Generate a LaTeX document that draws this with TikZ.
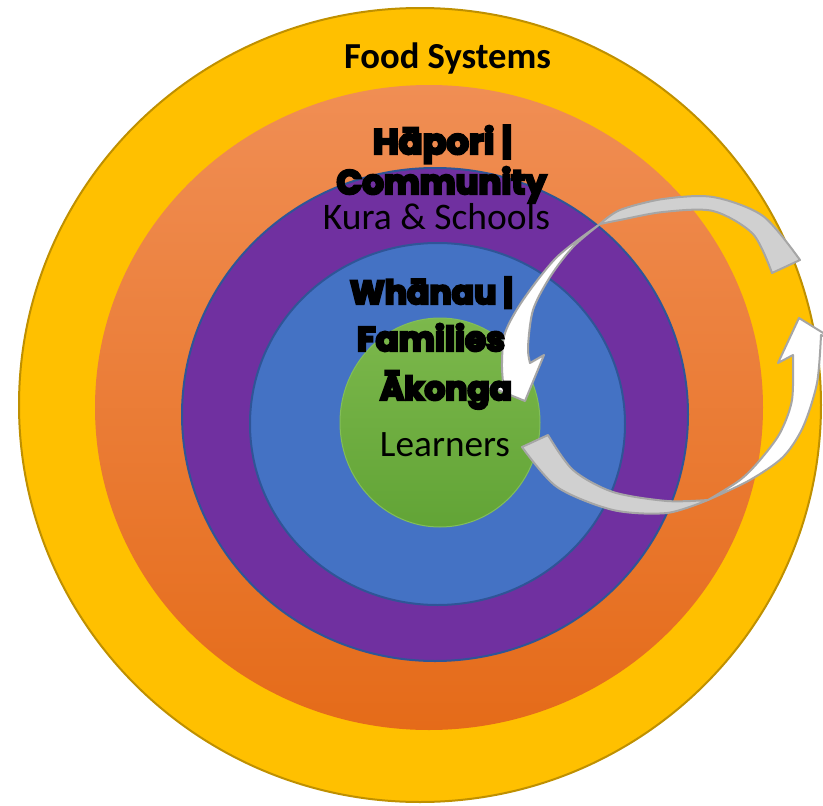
\documentclass[tikz,border=0pt]{standalone}
\usepackage{fontspec}
\usepackage{graphicx}
\setmainfont{Carlito}
\newfontfamily\chunky{Poppins}[UprightFont=* Bold, BoldFont=* Bold, UprightFeatures={FakeBold=7}]

\definecolor{ringyellow}{HTML}{FFC000}
\definecolor{ringyellowline}{HTML}{BF9000}
\definecolor{orangetop}{RGB}{240,142,84}
\definecolor{orangebot}{RGB}{229,107,25}
\definecolor{ringpurple}{HTML}{7030A0}
\definecolor{ringblue}{HTML}{4472C4}
\definecolor{ringline}{HTML}{2F5597}
\definecolor{greentop}{RGB}{124,184,76}
\definecolor{greenbot}{RGB}{98,164,54}
\definecolor{greenline}{RGB}{130,190,90}
\definecolor{bandgray}{RGB}{208,208,208}
\definecolor{bandline}{RGB}{166,166,166}

% fit a piece of text to a given width
\newcommand\fitto[2]{\resizebox{#1pt}{!}{#2}}

\begin{document}
\begin{tikzpicture}[x=1pt,y=-1pt,
  ring/.style={line width=2pt},
  label/.style={anchor=base,inner sep=0pt,text=black},
  chunk/.style={label,font=\chunky},
  plain/.style={label},
  back/.style={fill=bandgray,draw=bandline,line width=2pt,line join=round},
  front/.style={fill=white,draw=bandline,line width=2pt,line join=round}]

\useasboundingbox (0,0) rectangle (823,806);
\clip (0,0) rectangle (823,806);

% concentric rings
\draw[ring,fill=ringyellow,draw=ringyellowline] (420,405) ellipse [x radius=401, y radius=397];
\shade[top color=orangetop,bottom color=orangebot] (429,407.5) ellipse [x radius=334, y radius=322.5];
\draw[ring,fill=ringpurple,draw=ringline] (435,414.5) ellipse [x radius=253, y radius=246.5];
\draw[ring,fill=ringblue,draw=ringline] (437.5,424) ellipse [x radius=187.5, y radius=181];
\shade[top color=greentop,bottom color=greenbot,draw=greenline,line width=1pt] (440,422.5) ellipse [x radius=100, y radius=104.5];

% upper arrow: grey back band, then white front band with head
\filldraw[back] plot[smooth] coordinates {(600,224) (620,210) (663,199) (713,197) (763,216) (800,260)}
  -- plot[smooth] coordinates {(772,273) (753,234) (713,211) (663,212) (620,220) (600,224)} -- cycle;
\filldraw[front] plot[smooth] coordinates {(600,224) (557,257) (523,300) (505,333) (502,363) (503,382)}
  -- (488,386) -- (525,401) -- (544,355)
  -- plot[smooth] coordinates {(530,363) (528,347) (533,310) (550,277) (573,247) (600,224)} -- cycle;

% lower arrow: grey back band, then white front band with head
\filldraw[back] plot[smooth] coordinates {(522,447) (557,487) (613,510) (667,513) (708,500)}
  -- plot[smooth] coordinates {(708,500) (667,501) (613,492) (573,470) (548,435)} -- cycle;
\filldraw[front] plot[smooth] coordinates {(708,500) (740,480) (760,460) (780,433) (792,400) (793,355)}
  -- (778,363) -- (799,318) -- (841,344)
  -- plot[smooth] coordinates {(821,335) (817,383) (803,427) (783,457) (750,480) (708,500)} -- cycle;

% labels
\node[plain] (food) at (447.5,68) {\fitto{207}{\bfseries Food Systems}};
\node[chunk] (hapori) at (442.5,154) {\fitto{139}{Hāpori |}};
\node[chunk] (community) at (441.5,194) {\fitto{210}{Community}};
\node[plain] (kura) at (436.5,229) {\fitto{227}{Kura \& Schools}};
\node[chunk] (whanau) at (431.5,304) {\fitto{163}{Whānau |}};
\node[chunk] (families) at (431,351) {\fitto{148}{Families}};
\node[chunk] (akonga) at (446,400) {\fitto{132}{Ākonga}};
\node[plain] (learners) at (445,456) {\fitto{130}{Learners}};
\end{tikzpicture}
\end{document}
